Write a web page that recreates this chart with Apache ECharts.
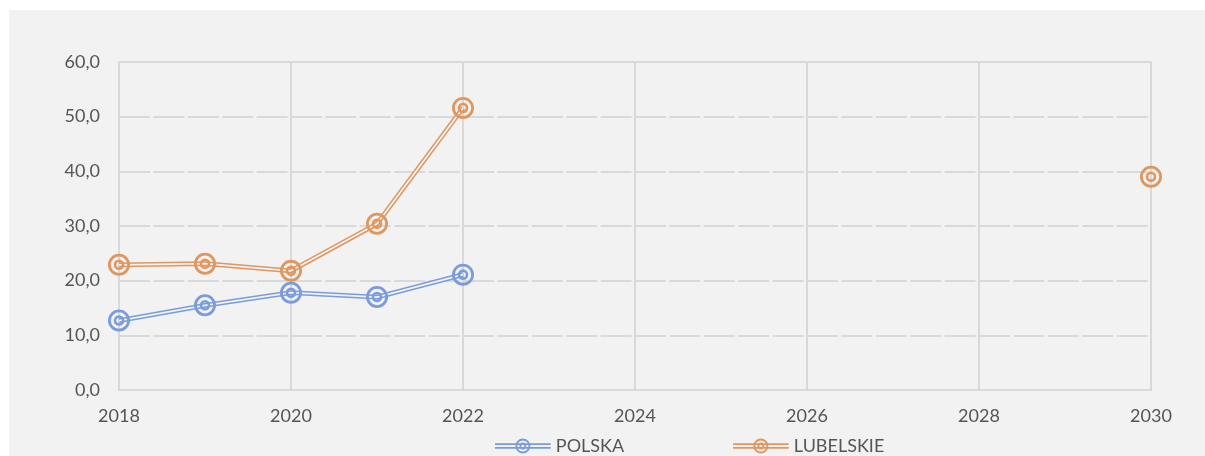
<!DOCTYPE html>
<html>
<head>
<meta charset="utf-8">
<script src="https://cdn.jsdelivr.net/npm/echarts@6/dist/echarts.min.js"></script>
<style>
html,body{margin:0;padding:0;background:#ffffff;}
#wrap{position:absolute;left:9px;top:10px;width:1196px;height:446px;background:#f2f2f2;}
#chart{position:absolute;left:0;top:0;width:1205px;height:456px;}
</style>
</head>
<body>
<div id="wrap"></div>
<div id="chart"></div>
<script>
const years = [2018, 2019, 2020, 2021, 2022, 2023, 2024, 2025, 2026, 2027, 2028, 2029, 2030];
const polska = [12.7, 15.5, 17.8, 17.0, 21.1, null, null, null, null, null, null, null, null];
const lubelskie = [22.9, 23.1, 21.8, 30.4, 51.6, null, null, null, null, null, null, null, 39.0];
const seriesNames = ['POLSKA', 'LUBELSKIE'];
const yTicks = [0, 10, 20, 30, 40, 50, 60];

const BLUE = '#7a9cdb';
const ORANGE = '#e0965f';
const BG = '#f2f2f2';
const FONT = 'Lato';
const TXT = '#555555';

function pairs(vals) { return years.map((y, i) => [y, vals[i]]); }

const markerPath = 'path://M22,11 A11,11 0 1,1 0,11 A11,11 0 1,1 22,11 Z ' +
  'M19.2,11 A8.2,8.2 0 1,0 2.8,11 A8.2,8.2 0 1,0 19.2,11 Z ' +
  'M16.3,11 A5.3,5.3 0 1,1 5.7,11 A5.3,5.3 0 1,1 16.3,11 Z ' +
  'M13.7,11 A2.7,2.7 0 1,0 8.3,11 A2.7,2.7 0 1,0 13.7,11 Z';

const legendPath = 'path://M0,4.5 H52 V6.0 H0 Z M0,8.0 H52 V9.5 H0 Z ' +
  'M33,7 A7,7 0 1,1 19,7 A7,7 0 1,1 33,7 Z ' +
  'M31.2,7 A5.2,5.2 0 1,0 20.8,7 A5.2,5.2 0 1,0 31.2,7 Z ' +
  'M29.2,7 A3.2,3.2 0 1,1 22.8,7 A3.2,3.2 0 1,1 29.2,7 Z ' +
  'M27.5,7 A1.5,1.5 0 1,0 24.5,7 A1.5,1.5 0 1,0 27.5,7 Z';

function lineSet(name, vals, color) {
  const d = pairs(vals);
  return [
    { type: 'line', name: name + '_outer', data: d, showSymbol: false, symbol: 'none', silent: true,
      lineStyle: { color: color, width: 4.8 }, itemStyle: { color: color }, z: 3, connectNulls: false, animation: false },
    { type: 'line', name: name + '_inner', data: d, showSymbol: false, symbol: 'none', silent: true,
      lineStyle: { color: BG, width: 1.8 }, itemStyle: { color: BG }, z: 4, connectNulls: false, animation: false },
    { type: 'scatter', name: name, data: d.filter(p => p[1] !== null), symbol: markerPath, symbolSize: 22,
      itemStyle: { color: color, opacity: 1 }, z: 5, animation: false }
  ];
}

const chart = echarts.init(document.getElementById('chart'), null, { renderer: 'canvas' });
chart.setOption({
  backgroundColor: 'transparent',
  animation: false,
  textStyle: { fontFamily: FONT },
  grid: { left: 119, right: 54, top: 62, bottom: 66, containLabel: false,
    show: true, borderColor: '#d9d9d9', borderWidth: 2, backgroundColor: 'transparent' },
  xAxis: {
    type: 'value', min: years[0], max: years[years.length - 1], interval: 2,
    axisLine: { show: true, lineStyle: { color: '#d9d9d9', width: 2 } },
    axisTick: { show: false },
    axisLabel: { color: TXT, fontSize: 18, fontFamily: FONT, margin: 17, formatter: v => String(v) },
    splitLine: { show: true, lineStyle: { color: '#d9d9d9', width: 2 } }
  },
  yAxis: {
    type: 'value', min: yTicks[0], max: yTicks[yTicks.length - 1], interval: 10,
    axisLine: { show: true, lineStyle: { color: '#d9d9d9', width: 2 } },
    axisTick: { show: false },
    axisLabel: { color: TXT, fontSize: 18, fontFamily: FONT, margin: 19, formatter: v => v.toFixed(1).replace('.', ',') },
    splitLine: { show: true, lineStyle: { color: '#d9d9d9', width: 2, type: [31, 3.4], dashOffset: 0 } }
  },
  legend: [
    { left: 490, top: 432, itemWidth: 56, itemHeight: 15, itemGap: 4, selectedMode: false,
      textStyle: { color: TXT, fontSize: 18, fontFamily: FONT },
      data: [{ name: seriesNames[0], icon: legendPath, itemStyle: { color: BLUE } }] },
    { left: 728, top: 432, itemWidth: 56, itemHeight: 15, itemGap: 4, selectedMode: false,
      textStyle: { color: TXT, fontSize: 18, fontFamily: FONT },
      data: [{ name: seriesNames[1], icon: legendPath, itemStyle: { color: ORANGE } }] }
  ],
  series: [].concat(lineSet(seriesNames[0], polska, BLUE), lineSet(seriesNames[1], lubelskie, ORANGE))
});
</script>
</body>
</html>
